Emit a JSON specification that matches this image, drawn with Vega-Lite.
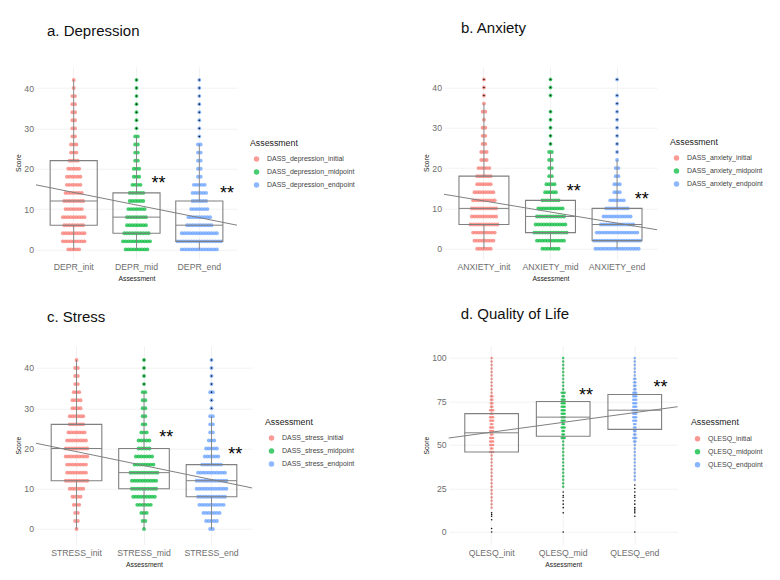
{"$schema":"https://vega.github.io/schema/vega-lite/v6.json","background":"white","padding":{"left":15,"top":20.7,"right":0,"bottom":0},"bounds":"flush","spacing":279,"config":{"font":"Liberation Sans","view":{"stroke":null},"axis":{"labelFontSize":8.7,"labelColor":"#6e6e6e","ticks":false,"domain":false,"gridColor":"#efefef","gridWidth":0.8,"titleFontSize":6.8,"titleFontWeight":"normal","titleColor":"#222222"},"legend":{"titleFontSize":8.8,"titleFontWeight":"normal","titleColor":"#222222","labelFontSize":7,"labelColor":"#444444","symbolSize":30,"symbolType":"circle","rowPadding":5,"titlePadding":8,"padding":0,"labelOffset":7,"symbolOffset":3},"title":{"fontSize":15,"fontWeight":"normal","anchor":"start","frame":"group","color":"#111111"}},"resolve":{"scale":{"color":"independent","xOffset":"independent"}},
"vconcat":[
{"hconcat":[
{"title":{"text":"a. Depression","dx":11,"offset":28},"width":201,"height":192,
"layer":[{"layer":[
{"data":{"values":[{"time":"init","score":0},{"time":"init","score":0},{"time":"init","score":0},{"time":"init","score":0},{"time":"init","score":0},{"time":"init","score":2},{"time":"init","score":2},{"time":"init","score":2},{"time":"init","score":2},{"time":"init","score":2},{"time":"init","score":2},{"time":"init","score":2},{"time":"init","score":2},{"time":"init","score":2},{"time":"init","score":4},{"time":"init","score":4},{"time":"init","score":4},{"time":"init","score":4},{"time":"init","score":4},{"time":"init","score":4},{"time":"init","score":4},{"time":"init","score":4},{"time":"init","score":4},{"time":"init","score":6},{"time":"init","score":6},{"time":"init","score":6},{"time":"init","score":6},{"time":"init","score":6},{"time":"init","score":6},{"time":"init","score":6},{"time":"init","score":6},{"time":"init","score":8},{"time":"init","score":8},{"time":"init","score":8},{"time":"init","score":8},{"time":"init","score":8},{"time":"init","score":8},{"time":"init","score":8},{"time":"init","score":8},{"time":"init","score":8},{"time":"init","score":10},{"time":"init","score":10},{"time":"init","score":10},{"time":"init","score":10},{"time":"init","score":10},{"time":"init","score":10},{"time":"init","score":10},{"time":"init","score":12},{"time":"init","score":12},{"time":"init","score":12},{"time":"init","score":12},{"time":"init","score":12},{"time":"init","score":12},{"time":"init","score":12},{"time":"init","score":12},{"time":"init","score":14},{"time":"init","score":14},{"time":"init","score":14},{"time":"init","score":14},{"time":"init","score":14},{"time":"init","score":14},{"time":"init","score":14},{"time":"init","score":16},{"time":"init","score":16},{"time":"init","score":16},{"time":"init","score":16},{"time":"init","score":16},{"time":"init","score":16},{"time":"init","score":18},{"time":"init","score":18},{"time":"init","score":18},{"time":"init","score":18},{"time":"init","score":18},{"time":"init","score":18},{"time":"init","score":20},{"time":"init","score":20},{"time":"init","score":20},{"time":"init","score":20},{"time":"init","score":20},{"time":"init","score":22},{"time":"init","score":22},{"time":"init","score":22},{"time":"init","score":22},{"time":"init","score":24},{"time":"init","score":24},{"time":"init","score":24},{"time":"init","score":26},{"time":"init","score":26},{"time":"init","score":26},{"time":"init","score":28},{"time":"init","score":28},{"time":"init","score":30},{"time":"init","score":30},{"time":"init","score":32},{"time":"init","score":32},{"time":"init","score":34},{"time":"init","score":34},{"time":"init","score":36},{"time":"init","score":36},{"time":"init","score":38},{"time":"init","score":38},{"time":"init","score":40},{"time":"init","score":42},
{"time":"mid","score":0},{"time":"mid","score":0},{"time":"mid","score":0},{"time":"mid","score":0},{"time":"mid","score":0},{"time":"mid","score":0},{"time":"mid","score":0},{"time":"mid","score":0},{"time":"mid","score":0},{"time":"mid","score":2},{"time":"mid","score":2},{"time":"mid","score":2},{"time":"mid","score":2},{"time":"mid","score":2},{"time":"mid","score":2},{"time":"mid","score":2},{"time":"mid","score":2},{"time":"mid","score":2},{"time":"mid","score":2},{"time":"mid","score":2},{"time":"mid","score":4},{"time":"mid","score":4},{"time":"mid","score":4},{"time":"mid","score":4},{"time":"mid","score":4},{"time":"mid","score":4},{"time":"mid","score":4},{"time":"mid","score":4},{"time":"mid","score":4},{"time":"mid","score":4},{"time":"mid","score":6},{"time":"mid","score":6},{"time":"mid","score":6},{"time":"mid","score":6},{"time":"mid","score":6},{"time":"mid","score":6},{"time":"mid","score":6},{"time":"mid","score":6},{"time":"mid","score":8},{"time":"mid","score":8},{"time":"mid","score":8},{"time":"mid","score":8},{"time":"mid","score":8},{"time":"mid","score":8},{"time":"mid","score":8},{"time":"mid","score":8},{"time":"mid","score":10},{"time":"mid","score":10},{"time":"mid","score":10},{"time":"mid","score":10},{"time":"mid","score":10},{"time":"mid","score":10},{"time":"mid","score":10},{"time":"mid","score":12},{"time":"mid","score":12},{"time":"mid","score":12},{"time":"mid","score":12},{"time":"mid","score":12},{"time":"mid","score":12},{"time":"mid","score":14},{"time":"mid","score":14},{"time":"mid","score":14},{"time":"mid","score":14},{"time":"mid","score":14},{"time":"mid","score":14},{"time":"mid","score":16},{"time":"mid","score":16},{"time":"mid","score":16},{"time":"mid","score":16},{"time":"mid","score":18},{"time":"mid","score":18},{"time":"mid","score":18},{"time":"mid","score":20},{"time":"mid","score":20},{"time":"mid","score":20},{"time":"mid","score":22},{"time":"mid","score":22},{"time":"mid","score":24},{"time":"mid","score":24},{"time":"mid","score":26},{"time":"mid","score":26},{"time":"mid","score":28},{"time":"mid","score":28},{"time":"mid","score":30},{"time":"mid","score":32},{"time":"mid","score":34},{"time":"mid","score":36},{"time":"mid","score":38},{"time":"mid","score":40},{"time":"mid","score":42},
{"time":"end","score":0},{"time":"end","score":0},{"time":"end","score":0},{"time":"end","score":0},{"time":"end","score":0},{"time":"end","score":0},{"time":"end","score":0},{"time":"end","score":0},{"time":"end","score":0},{"time":"end","score":0},{"time":"end","score":0},{"time":"end","score":0},{"time":"end","score":0},{"time":"end","score":0},{"time":"end","score":2},{"time":"end","score":2},{"time":"end","score":2},{"time":"end","score":2},{"time":"end","score":2},{"time":"end","score":2},{"time":"end","score":2},{"time":"end","score":2},{"time":"end","score":2},{"time":"end","score":2},{"time":"end","score":2},{"time":"end","score":2},{"time":"end","score":2},{"time":"end","score":2},{"time":"end","score":2},{"time":"end","score":2},{"time":"end","score":2},{"time":"end","score":4},{"time":"end","score":4},{"time":"end","score":4},{"time":"end","score":4},{"time":"end","score":4},{"time":"end","score":4},{"time":"end","score":4},{"time":"end","score":4},{"time":"end","score":4},{"time":"end","score":4},{"time":"end","score":4},{"time":"end","score":4},{"time":"end","score":4},{"time":"end","score":4},{"time":"end","score":6},{"time":"end","score":6},{"time":"end","score":6},{"time":"end","score":6},{"time":"end","score":6},{"time":"end","score":6},{"time":"end","score":6},{"time":"end","score":6},{"time":"end","score":6},{"time":"end","score":6},{"time":"end","score":8},{"time":"end","score":8},{"time":"end","score":8},{"time":"end","score":8},{"time":"end","score":8},{"time":"end","score":8},{"time":"end","score":8},{"time":"end","score":8},{"time":"end","score":8},{"time":"end","score":10},{"time":"end","score":10},{"time":"end","score":10},{"time":"end","score":10},{"time":"end","score":10},{"time":"end","score":10},{"time":"end","score":10},{"time":"end","score":12},{"time":"end","score":12},{"time":"end","score":12},{"time":"end","score":12},{"time":"end","score":12},{"time":"end","score":12},{"time":"end","score":14},{"time":"end","score":14},{"time":"end","score":14},{"time":"end","score":14},{"time":"end","score":14},{"time":"end","score":14},{"time":"end","score":16},{"time":"end","score":16},{"time":"end","score":16},{"time":"end","score":16},{"time":"end","score":16},{"time":"end","score":18},{"time":"end","score":18},{"time":"end","score":20},{"time":"end","score":20},{"time":"end","score":22},{"time":"end","score":22},{"time":"end","score":24},{"time":"end","score":24},{"time":"end","score":26},{"time":"end","score":26},{"time":"end","score":28},{"time":"end","score":30},{"time":"end","score":32},{"time":"end","score":34},{"time":"end","score":36},{"time":"end","score":38},{"time":"end","score":40},{"time":"end","score":42}]},
"transform":[{"window":[{"op":"row_number","as":"rank"}],"groupby":["time","score"]},{"joinaggregate":[{"op":"count","as":"n"}],"groupby":["time","score"]},{"calculate":"datum.rank-(datum.n+1)/2","as":"slot"}],
"mark":{"type":"point","filled":true,"size":15,"opacity":0.72},
"encoding":{"x":{"field":"time","type":"nominal","sort":["init","mid","end"],"scale":{"paddingInner":0,"paddingOuter":0.1},"axis":{"title":"Assessment","labelAngle":0,"labelExpr":"'DEPR_'+datum.label","labelPadding":4.3,"titlePadding":4,"grid":true}},"xOffset":{"field":"slot","type":"quantitative","scale":{"domain":[-11.6,11.6]}},"y":{"field":"score","type":"quantitative","scale":{"domain":[-2.3,45.28],"nice":false,"zero":false},"axis":{"title":"Score","values":[0,5,10,15,20,25,30,35,40,45],"labelExpr":"datum.value%10===0?datum.label:''","labelPadding":2.5,"titlePadding":2}},"color":{"field":"time","type":"nominal","scale":{"domain":["init","mid","end"],"range":["#F8766D","#00BA38","#619CFF"]},"legend":{"title":"Assessment","orient":"none","legendX":214,"legendY":72,"labelExpr":"'DASS_depression_'+{init:'initial',mid:'midpoint',end:'endpoint'}[datum.label]"}}}},
{"data":{"values":[{"time":"mid","score":30},{"time":"mid","score":32},{"time":"mid","score":34},{"time":"mid","score":36},{"time":"mid","score":38},{"time":"mid","score":40},{"time":"mid","score":42},{"time":"end","score":28},{"time":"end","score":30},{"time":"end","score":32},{"time":"end","score":34},{"time":"end","score":36},{"time":"end","score":38},{"time":"end","score":40},{"time":"end","score":42}]},"mark":{"type":"point","filled":true,"size":2.5,"color":"#111111","opacity":1},"encoding":{"x":{"field":"time","type":"nominal","sort":["init","mid","end"]},"y":{"field":"score","type":"quantitative"}}}
]},
{"layer":[
{"data":{"values":[{"position":1,"left":0.625,"right":1.375,"low":0,"q1":6,"median":12,"q3":22,"high":42},{"position":2,"left":1.625,"right":2.375,"low":0,"q1":4,"median":8,"q3":14,"high":28},{"position":3,"left":2.625,"right":3.375,"low":0,"q1":2,"median":6,"q3":12,"high":26}]},
"layer":[
{"mark":{"type":"rule","color":"#808080","strokeWidth":0.9},"encoding":{"x":{"field":"position","type":"quantitative","scale":{"domain":[0.4,3.6],"nice":false,"zero":false},"axis":null},"y":{"field":"q3","type":"quantitative"},"y2":{"field":"high"}}},
{"mark":{"type":"rule","color":"#808080","strokeWidth":0.9},"encoding":{"x":{"field":"position","type":"quantitative","axis":null},"y":{"field":"low","type":"quantitative"},"y2":{"field":"q1"}}},
{"mark":{"type":"rect","fillOpacity":0,"stroke":"#808080","strokeWidth":1.1},"encoding":{"x":{"field":"left","type":"quantitative","axis":null},"x2":{"field":"right"},"y":{"field":"q1","type":"quantitative"},"y2":{"field":"q3"}}},
{"mark":{"type":"rule","color":"#808080","strokeWidth":1},"encoding":{"x":{"field":"left","type":"quantitative","axis":null},"x2":{"field":"right"},"y":{"field":"median","type":"quantitative"}}}
]},
{"data":{"values":[{"position":0.4,"score":16},{"position":3.6,"score":6}]},"mark":{"type":"line","color":"#808080","strokeWidth":1},"encoding":{"x":{"field":"position","type":"quantitative","axis":null},"y":{"field":"score","type":"quantitative"}}},
{"data":{"values":[{"position":2.35,"score":17.3,"mark":"**"},{"position":3.44,"score":14.7,"mark":"**"}]},"mark":{"type":"text","fontSize":18,"dy":4,"color":"#000000"},"encoding":{"x":{"field":"position","type":"quantitative","axis":null},"y":{"field":"score","type":"quantitative"},"text":{"field":"mark"}}}
]}],"resolve":{"scale":{"x":"independent"}}},
{"title":{"text":"b. Anxiety","dx":17,"offset":31},"width":213,"height":192,
"layer":[{"layer":[
{"data":{"values":[{"time":"init","score":0},{"time":"init","score":0},{"time":"init","score":0},{"time":"init","score":0},{"time":"init","score":0},{"time":"init","score":0},{"time":"init","score":2},{"time":"init","score":2},{"time":"init","score":2},{"time":"init","score":2},{"time":"init","score":2},{"time":"init","score":2},{"time":"init","score":2},{"time":"init","score":2},{"time":"init","score":4},{"time":"init","score":4},{"time":"init","score":4},{"time":"init","score":4},{"time":"init","score":4},{"time":"init","score":4},{"time":"init","score":4},{"time":"init","score":4},{"time":"init","score":4},{"time":"init","score":6},{"time":"init","score":6},{"time":"init","score":6},{"time":"init","score":6},{"time":"init","score":6},{"time":"init","score":6},{"time":"init","score":6},{"time":"init","score":6},{"time":"init","score":6},{"time":"init","score":6},{"time":"init","score":6},{"time":"init","score":8},{"time":"init","score":8},{"time":"init","score":8},{"time":"init","score":8},{"time":"init","score":8},{"time":"init","score":8},{"time":"init","score":8},{"time":"init","score":8},{"time":"init","score":8},{"time":"init","score":8},{"time":"init","score":10},{"time":"init","score":10},{"time":"init","score":10},{"time":"init","score":10},{"time":"init","score":10},{"time":"init","score":10},{"time":"init","score":10},{"time":"init","score":10},{"time":"init","score":10},{"time":"init","score":10},{"time":"init","score":12},{"time":"init","score":12},{"time":"init","score":12},{"time":"init","score":12},{"time":"init","score":12},{"time":"init","score":12},{"time":"init","score":12},{"time":"init","score":12},{"time":"init","score":12},{"time":"init","score":14},{"time":"init","score":14},{"time":"init","score":14},{"time":"init","score":14},{"time":"init","score":14},{"time":"init","score":14},{"time":"init","score":14},{"time":"init","score":14},{"time":"init","score":16},{"time":"init","score":16},{"time":"init","score":16},{"time":"init","score":16},{"time":"init","score":16},{"time":"init","score":16},{"time":"init","score":18},{"time":"init","score":18},{"time":"init","score":18},{"time":"init","score":18},{"time":"init","score":18},{"time":"init","score":18},{"time":"init","score":20},{"time":"init","score":20},{"time":"init","score":20},{"time":"init","score":20},{"time":"init","score":20},{"time":"init","score":22},{"time":"init","score":22},{"time":"init","score":22},{"time":"init","score":24},{"time":"init","score":24},{"time":"init","score":24},{"time":"init","score":26},{"time":"init","score":26},{"time":"init","score":28},{"time":"init","score":28},{"time":"init","score":30},{"time":"init","score":30},{"time":"init","score":32},{"time":"init","score":34},{"time":"init","score":34},{"time":"init","score":36},{"time":"init","score":38},{"time":"init","score":40},{"time":"init","score":42},
{"time":"mid","score":0},{"time":"mid","score":0},{"time":"mid","score":0},{"time":"mid","score":0},{"time":"mid","score":0},{"time":"mid","score":0},{"time":"mid","score":0},{"time":"mid","score":2},{"time":"mid","score":2},{"time":"mid","score":2},{"time":"mid","score":2},{"time":"mid","score":2},{"time":"mid","score":2},{"time":"mid","score":2},{"time":"mid","score":2},{"time":"mid","score":2},{"time":"mid","score":2},{"time":"mid","score":2},{"time":"mid","score":4},{"time":"mid","score":4},{"time":"mid","score":4},{"time":"mid","score":4},{"time":"mid","score":4},{"time":"mid","score":4},{"time":"mid","score":4},{"time":"mid","score":4},{"time":"mid","score":4},{"time":"mid","score":4},{"time":"mid","score":4},{"time":"mid","score":4},{"time":"mid","score":4},{"time":"mid","score":6},{"time":"mid","score":6},{"time":"mid","score":6},{"time":"mid","score":6},{"time":"mid","score":6},{"time":"mid","score":6},{"time":"mid","score":6},{"time":"mid","score":6},{"time":"mid","score":6},{"time":"mid","score":6},{"time":"mid","score":6},{"time":"mid","score":6},{"time":"mid","score":8},{"time":"mid","score":8},{"time":"mid","score":8},{"time":"mid","score":8},{"time":"mid","score":8},{"time":"mid","score":8},{"time":"mid","score":8},{"time":"mid","score":8},{"time":"mid","score":8},{"time":"mid","score":8},{"time":"mid","score":8},{"time":"mid","score":10},{"time":"mid","score":10},{"time":"mid","score":10},{"time":"mid","score":10},{"time":"mid","score":10},{"time":"mid","score":10},{"time":"mid","score":10},{"time":"mid","score":10},{"time":"mid","score":10},{"time":"mid","score":10},{"time":"mid","score":12},{"time":"mid","score":12},{"time":"mid","score":12},{"time":"mid","score":12},{"time":"mid","score":12},{"time":"mid","score":12},{"time":"mid","score":12},{"time":"mid","score":14},{"time":"mid","score":14},{"time":"mid","score":14},{"time":"mid","score":14},{"time":"mid","score":14},{"time":"mid","score":16},{"time":"mid","score":16},{"time":"mid","score":16},{"time":"mid","score":16},{"time":"mid","score":18},{"time":"mid","score":18},{"time":"mid","score":20},{"time":"mid","score":20},{"time":"mid","score":22},{"time":"mid","score":22},{"time":"mid","score":24},{"time":"mid","score":24},{"time":"mid","score":26},{"time":"mid","score":28},{"time":"mid","score":30},{"time":"mid","score":32},{"time":"mid","score":34},{"time":"mid","score":38},{"time":"mid","score":40},{"time":"mid","score":42},
{"time":"end","score":0},{"time":"end","score":0},{"time":"end","score":0},{"time":"end","score":0},{"time":"end","score":0},{"time":"end","score":0},{"time":"end","score":0},{"time":"end","score":0},{"time":"end","score":0},{"time":"end","score":0},{"time":"end","score":0},{"time":"end","score":0},{"time":"end","score":0},{"time":"end","score":0},{"time":"end","score":0},{"time":"end","score":0},{"time":"end","score":0},{"time":"end","score":2},{"time":"end","score":2},{"time":"end","score":2},{"time":"end","score":2},{"time":"end","score":2},{"time":"end","score":2},{"time":"end","score":2},{"time":"end","score":2},{"time":"end","score":2},{"time":"end","score":2},{"time":"end","score":2},{"time":"end","score":2},{"time":"end","score":2},{"time":"end","score":2},{"time":"end","score":2},{"time":"end","score":2},{"time":"end","score":2},{"time":"end","score":2},{"time":"end","score":4},{"time":"end","score":4},{"time":"end","score":4},{"time":"end","score":4},{"time":"end","score":4},{"time":"end","score":4},{"time":"end","score":4},{"time":"end","score":4},{"time":"end","score":4},{"time":"end","score":4},{"time":"end","score":4},{"time":"end","score":4},{"time":"end","score":4},{"time":"end","score":4},{"time":"end","score":4},{"time":"end","score":4},{"time":"end","score":6},{"time":"end","score":6},{"time":"end","score":6},{"time":"end","score":6},{"time":"end","score":6},{"time":"end","score":6},{"time":"end","score":6},{"time":"end","score":6},{"time":"end","score":6},{"time":"end","score":6},{"time":"end","score":6},{"time":"end","score":6},{"time":"end","score":6},{"time":"end","score":8},{"time":"end","score":8},{"time":"end","score":8},{"time":"end","score":8},{"time":"end","score":8},{"time":"end","score":8},{"time":"end","score":8},{"time":"end","score":8},{"time":"end","score":8},{"time":"end","score":8},{"time":"end","score":8},{"time":"end","score":10},{"time":"end","score":10},{"time":"end","score":10},{"time":"end","score":10},{"time":"end","score":10},{"time":"end","score":10},{"time":"end","score":10},{"time":"end","score":10},{"time":"end","score":10},{"time":"end","score":12},{"time":"end","score":12},{"time":"end","score":12},{"time":"end","score":12},{"time":"end","score":12},{"time":"end","score":12},{"time":"end","score":14},{"time":"end","score":14},{"time":"end","score":14},{"time":"end","score":16},{"time":"end","score":16},{"time":"end","score":16},{"time":"end","score":18},{"time":"end","score":18},{"time":"end","score":20},{"time":"end","score":20},{"time":"end","score":22},{"time":"end","score":24},{"time":"end","score":26},{"time":"end","score":28},{"time":"end","score":30},{"time":"end","score":32},{"time":"end","score":34},{"time":"end","score":36},{"time":"end","score":38},{"time":"end","score":42}]},
"transform":[{"window":[{"op":"row_number","as":"rank"}],"groupby":["time","score"]},{"joinaggregate":[{"op":"count","as":"n"}],"groupby":["time","score"]},{"calculate":"datum.rank-(datum.n+1)/2","as":"slot"}],
"mark":{"type":"point","filled":true,"size":15,"opacity":0.72},
"encoding":{"x":{"field":"time","type":"nominal","sort":["init","mid","end"],"scale":{"paddingInner":0,"paddingOuter":0.1},"axis":{"title":"Assessment","labelAngle":0,"labelExpr":"'ANXIETY_'+datum.label","labelPadding":4.3,"titlePadding":4,"grid":true}},"xOffset":{"field":"slot","type":"quantitative","scale":{"domain":[-12.3,12.3]}},"y":{"field":"score","type":"quantitative","scale":{"domain":[-2.48,45.16],"nice":false,"zero":false},"axis":{"title":"Score","values":[0,5,10,15,20,25,30,35,40,45],"labelExpr":"datum.value%10===0?datum.label:''","labelPadding":2.5,"titlePadding":2}},"color":{"field":"time","type":"nominal","scale":{"domain":["init","mid","end"],"range":["#F8766D","#00BA38","#619CFF"]},"legend":{"title":"Assessment","orient":"none","legendX":226,"legendY":71,"labelExpr":"'DASS_anxiety_'+{init:'initial',mid:'midpoint',end:'endpoint'}[datum.label]"}}}},
{"data":{"values":[{"time":"init","score":38},{"time":"init","score":40},{"time":"init","score":42},{"time":"mid","score":26},{"time":"mid","score":28},{"time":"mid","score":30},{"time":"mid","score":32},{"time":"mid","score":34},{"time":"mid","score":38},{"time":"mid","score":40},{"time":"mid","score":42},{"time":"end","score":24},{"time":"end","score":26},{"time":"end","score":28},{"time":"end","score":30},{"time":"end","score":32},{"time":"end","score":34},{"time":"end","score":36},{"time":"end","score":38},{"time":"end","score":42}]},"mark":{"type":"point","filled":true,"size":2.5,"color":"#111111","opacity":1},"encoding":{"x":{"field":"time","type":"nominal","sort":["init","mid","end"]},"y":{"field":"score","type":"quantitative"}}}
]},
{"layer":[
{"data":{"values":[{"position":1,"left":0.625,"right":1.375,"low":0,"q1":6,"median":10,"q3":18,"high":36},{"position":2,"left":1.625,"right":2.375,"low":0,"q1":4,"median":8,"q3":12,"high":24},{"position":3,"left":2.625,"right":3.375,"low":0,"q1":2,"median":6,"q3":10,"high":22}]},
"layer":[
{"mark":{"type":"rule","color":"#808080","strokeWidth":0.9},"encoding":{"x":{"field":"position","type":"quantitative","scale":{"domain":[0.4,3.6],"nice":false,"zero":false},"axis":null},"y":{"field":"q3","type":"quantitative"},"y2":{"field":"high"}}},
{"mark":{"type":"rule","color":"#808080","strokeWidth":0.9},"encoding":{"x":{"field":"position","type":"quantitative","axis":null},"y":{"field":"low","type":"quantitative"},"y2":{"field":"q1"}}},
{"mark":{"type":"rect","fillOpacity":0,"stroke":"#808080","strokeWidth":1.1},"encoding":{"x":{"field":"left","type":"quantitative","axis":null},"x2":{"field":"right"},"y":{"field":"q1","type":"quantitative"},"y2":{"field":"q3"}}},
{"mark":{"type":"rule","color":"#808080","strokeWidth":1},"encoding":{"x":{"field":"left","type":"quantitative","axis":null},"x2":{"field":"right"},"y":{"field":"median","type":"quantitative"}}}
]},
{"data":{"values":[{"position":0.4,"score":13.5},{"position":3.6,"score":4.7}]},"mark":{"type":"line","color":"#808080","strokeWidth":1},"encoding":{"x":{"field":"position","type":"quantitative","axis":null},"y":{"field":"score","type":"quantitative"}}},
{"data":{"values":[{"position":2.35,"score":15.1,"mark":"**"},{"position":3.37,"score":13,"mark":"**"}]},"mark":{"type":"text","fontSize":18,"dy":4,"color":"#000000"},"encoding":{"x":{"field":"position","type":"quantitative","axis":null},"y":{"field":"score","type":"quantitative"},"text":{"field":"mark"}}}
]}],"resolve":{"scale":{"x":"independent"}}}
],"spacing":207,"bounds":"flush","resolve":{"scale":{"color":"independent","xOffset":"independent"}}},
{"hconcat":[
{"title":{"text":"c. Stress","dx":11,"offset":21},"width":216,"height":199,
"layer":[{"layer":[
{"data":{"values":[{"time":"init","score":0},{"time":"init","score":2},{"time":"init","score":2},{"time":"init","score":4},{"time":"init","score":4},{"time":"init","score":6},{"time":"init","score":6},{"time":"init","score":6},{"time":"init","score":8},{"time":"init","score":8},{"time":"init","score":8},{"time":"init","score":8},{"time":"init","score":10},{"time":"init","score":10},{"time":"init","score":10},{"time":"init","score":10},{"time":"init","score":10},{"time":"init","score":10},{"time":"init","score":12},{"time":"init","score":12},{"time":"init","score":12},{"time":"init","score":12},{"time":"init","score":12},{"time":"init","score":12},{"time":"init","score":12},{"time":"init","score":12},{"time":"init","score":12},{"time":"init","score":14},{"time":"init","score":14},{"time":"init","score":14},{"time":"init","score":14},{"time":"init","score":14},{"time":"init","score":14},{"time":"init","score":14},{"time":"init","score":14},{"time":"init","score":16},{"time":"init","score":16},{"time":"init","score":16},{"time":"init","score":16},{"time":"init","score":16},{"time":"init","score":16},{"time":"init","score":16},{"time":"init","score":16},{"time":"init","score":18},{"time":"init","score":18},{"time":"init","score":18},{"time":"init","score":18},{"time":"init","score":18},{"time":"init","score":18},{"time":"init","score":18},{"time":"init","score":18},{"time":"init","score":18},{"time":"init","score":20},{"time":"init","score":20},{"time":"init","score":20},{"time":"init","score":20},{"time":"init","score":20},{"time":"init","score":20},{"time":"init","score":20},{"time":"init","score":20},{"time":"init","score":20},{"time":"init","score":22},{"time":"init","score":22},{"time":"init","score":22},{"time":"init","score":22},{"time":"init","score":22},{"time":"init","score":22},{"time":"init","score":22},{"time":"init","score":22},{"time":"init","score":24},{"time":"init","score":24},{"time":"init","score":24},{"time":"init","score":24},{"time":"init","score":24},{"time":"init","score":24},{"time":"init","score":24},{"time":"init","score":26},{"time":"init","score":26},{"time":"init","score":26},{"time":"init","score":26},{"time":"init","score":26},{"time":"init","score":26},{"time":"init","score":28},{"time":"init","score":28},{"time":"init","score":28},{"time":"init","score":28},{"time":"init","score":28},{"time":"init","score":28},{"time":"init","score":30},{"time":"init","score":30},{"time":"init","score":30},{"time":"init","score":30},{"time":"init","score":32},{"time":"init","score":32},{"time":"init","score":32},{"time":"init","score":32},{"time":"init","score":34},{"time":"init","score":34},{"time":"init","score":34},{"time":"init","score":36},{"time":"init","score":36},{"time":"init","score":38},{"time":"init","score":38},{"time":"init","score":40},{"time":"init","score":40},{"time":"init","score":42},
{"time":"mid","score":0},{"time":"mid","score":2},{"time":"mid","score":2},{"time":"mid","score":4},{"time":"mid","score":4},{"time":"mid","score":4},{"time":"mid","score":6},{"time":"mid","score":6},{"time":"mid","score":6},{"time":"mid","score":6},{"time":"mid","score":6},{"time":"mid","score":6},{"time":"mid","score":8},{"time":"mid","score":8},{"time":"mid","score":8},{"time":"mid","score":8},{"time":"mid","score":8},{"time":"mid","score":8},{"time":"mid","score":8},{"time":"mid","score":8},{"time":"mid","score":8},{"time":"mid","score":10},{"time":"mid","score":10},{"time":"mid","score":10},{"time":"mid","score":10},{"time":"mid","score":10},{"time":"mid","score":10},{"time":"mid","score":10},{"time":"mid","score":10},{"time":"mid","score":10},{"time":"mid","score":10},{"time":"mid","score":12},{"time":"mid","score":12},{"time":"mid","score":12},{"time":"mid","score":12},{"time":"mid","score":12},{"time":"mid","score":12},{"time":"mid","score":12},{"time":"mid","score":12},{"time":"mid","score":12},{"time":"mid","score":12},{"time":"mid","score":14},{"time":"mid","score":14},{"time":"mid","score":14},{"time":"mid","score":14},{"time":"mid","score":14},{"time":"mid","score":14},{"time":"mid","score":14},{"time":"mid","score":14},{"time":"mid","score":14},{"time":"mid","score":14},{"time":"mid","score":14},{"time":"mid","score":16},{"time":"mid","score":16},{"time":"mid","score":16},{"time":"mid","score":16},{"time":"mid","score":16},{"time":"mid","score":16},{"time":"mid","score":16},{"time":"mid","score":16},{"time":"mid","score":18},{"time":"mid","score":18},{"time":"mid","score":18},{"time":"mid","score":18},{"time":"mid","score":18},{"time":"mid","score":18},{"time":"mid","score":18},{"time":"mid","score":20},{"time":"mid","score":20},{"time":"mid","score":20},{"time":"mid","score":20},{"time":"mid","score":20},{"time":"mid","score":22},{"time":"mid","score":22},{"time":"mid","score":22},{"time":"mid","score":22},{"time":"mid","score":22},{"time":"mid","score":24},{"time":"mid","score":24},{"time":"mid","score":24},{"time":"mid","score":26},{"time":"mid","score":26},{"time":"mid","score":28},{"time":"mid","score":28},{"time":"mid","score":30},{"time":"mid","score":30},{"time":"mid","score":32},{"time":"mid","score":32},{"time":"mid","score":34},{"time":"mid","score":34},{"time":"mid","score":36},{"time":"mid","score":38},{"time":"mid","score":40},{"time":"mid","score":42},
{"time":"end","score":0},{"time":"end","score":0},{"time":"end","score":2},{"time":"end","score":2},{"time":"end","score":2},{"time":"end","score":2},{"time":"end","score":2},{"time":"end","score":4},{"time":"end","score":4},{"time":"end","score":4},{"time":"end","score":4},{"time":"end","score":4},{"time":"end","score":4},{"time":"end","score":4},{"time":"end","score":6},{"time":"end","score":6},{"time":"end","score":6},{"time":"end","score":6},{"time":"end","score":6},{"time":"end","score":6},{"time":"end","score":6},{"time":"end","score":6},{"time":"end","score":6},{"time":"end","score":6},{"time":"end","score":8},{"time":"end","score":8},{"time":"end","score":8},{"time":"end","score":8},{"time":"end","score":8},{"time":"end","score":8},{"time":"end","score":8},{"time":"end","score":8},{"time":"end","score":8},{"time":"end","score":8},{"time":"end","score":8},{"time":"end","score":10},{"time":"end","score":10},{"time":"end","score":10},{"time":"end","score":10},{"time":"end","score":10},{"time":"end","score":10},{"time":"end","score":10},{"time":"end","score":10},{"time":"end","score":10},{"time":"end","score":10},{"time":"end","score":10},{"time":"end","score":10},{"time":"end","score":12},{"time":"end","score":12},{"time":"end","score":12},{"time":"end","score":12},{"time":"end","score":12},{"time":"end","score":12},{"time":"end","score":12},{"time":"end","score":12},{"time":"end","score":12},{"time":"end","score":12},{"time":"end","score":12},{"time":"end","score":12},{"time":"end","score":14},{"time":"end","score":14},{"time":"end","score":14},{"time":"end","score":14},{"time":"end","score":14},{"time":"end","score":14},{"time":"end","score":14},{"time":"end","score":14},{"time":"end","score":14},{"time":"end","score":14},{"time":"end","score":14},{"time":"end","score":16},{"time":"end","score":16},{"time":"end","score":16},{"time":"end","score":16},{"time":"end","score":16},{"time":"end","score":16},{"time":"end","score":16},{"time":"end","score":16},{"time":"end","score":18},{"time":"end","score":18},{"time":"end","score":18},{"time":"end","score":18},{"time":"end","score":18},{"time":"end","score":18},{"time":"end","score":20},{"time":"end","score":20},{"time":"end","score":20},{"time":"end","score":20},{"time":"end","score":20},{"time":"end","score":22},{"time":"end","score":22},{"time":"end","score":22},{"time":"end","score":24},{"time":"end","score":24},{"time":"end","score":26},{"time":"end","score":26},{"time":"end","score":28},{"time":"end","score":28},{"time":"end","score":30},{"time":"end","score":32},{"time":"end","score":34},{"time":"end","score":34},{"time":"end","score":36},{"time":"end","score":38},{"time":"end","score":40},{"time":"end","score":42}]},
"transform":[{"window":[{"op":"row_number","as":"rank"}],"groupby":["time","score"]},{"joinaggregate":[{"op":"count","as":"n"}],"groupby":["time","score"]},{"calculate":"datum.rank-(datum.n+1)/2","as":"slot"}],
"mark":{"type":"point","filled":true,"size":15,"opacity":0.72},
"encoding":{"x":{"field":"time","type":"nominal","sort":["init","mid","end"],"scale":{"paddingInner":0,"paddingOuter":0.1},"axis":{"title":"Assessment","labelAngle":0,"labelExpr":"'STRESS_'+datum.label","labelPadding":4.3,"titlePadding":4,"grid":true}},"xOffset":{"field":"slot","type":"quantitative","scale":{"domain":[-12.5,12.5]}},"y":{"field":"score","type":"quantitative","scale":{"domain":[-3.9,45.54],"nice":false,"zero":false},"axis":{"title":"Score","values":[0,5,10,15,20,25,30,35,40,45],"labelExpr":"datum.value%10===0?datum.label:''","labelPadding":2.5,"titlePadding":2}},"color":{"field":"time","type":"nominal","scale":{"domain":["init","mid","end"],"range":["#F8766D","#00BA38","#619CFF"]},"legend":{"title":"Assessment","orient":"none","legendX":229,"legendY":72,"labelExpr":"'DASS_stress_'+{init:'initial',mid:'midpoint',end:'endpoint'}[datum.label]"}}}},
{"data":{"values":[{"time":"mid","score":36},{"time":"mid","score":38},{"time":"mid","score":40},{"time":"mid","score":42},{"time":"end","score":30},{"time":"end","score":32},{"time":"end","score":34},{"time":"end","score":36},{"time":"end","score":38},{"time":"end","score":40},{"time":"end","score":42}]},"mark":{"type":"point","filled":true,"size":2.5,"color":"#111111","opacity":1},"encoding":{"x":{"field":"time","type":"nominal","sort":["init","mid","end"]},"y":{"field":"score","type":"quantitative"}}}
]},
{"layer":[
{"data":{"values":[{"position":1,"left":0.625,"right":1.375,"low":0,"q1":12,"median":20,"q3":26,"high":42},{"position":2,"left":1.625,"right":2.375,"low":0,"q1":10,"median":14,"q3":20,"high":34},{"position":3,"left":2.625,"right":3.375,"low":0,"q1":8,"median":12,"q3":16,"high":28}]},
"layer":[
{"mark":{"type":"rule","color":"#808080","strokeWidth":0.9},"encoding":{"x":{"field":"position","type":"quantitative","scale":{"domain":[0.4,3.6],"nice":false,"zero":false},"axis":null},"y":{"field":"q3","type":"quantitative"},"y2":{"field":"high"}}},
{"mark":{"type":"rule","color":"#808080","strokeWidth":0.9},"encoding":{"x":{"field":"position","type":"quantitative","axis":null},"y":{"field":"low","type":"quantitative"},"y2":{"field":"q1"}}},
{"mark":{"type":"rect","fillOpacity":0,"stroke":"#808080","strokeWidth":1.1},"encoding":{"x":{"field":"left","type":"quantitative","axis":null},"x2":{"field":"right"},"y":{"field":"q1","type":"quantitative"},"y2":{"field":"q3"}}},
{"mark":{"type":"rule","color":"#808080","strokeWidth":1},"encoding":{"x":{"field":"left","type":"quantitative","axis":null},"x2":{"field":"right"},"y":{"field":"median","type":"quantitative"}}}
]},
{"data":{"values":[{"position":0.4,"score":21.3},{"position":3.6,"score":10.2}]},"mark":{"type":"line","color":"#808080","strokeWidth":1},"encoding":{"x":{"field":"position","type":"quantitative","axis":null},"y":{"field":"score","type":"quantitative"}}},
{"data":{"values":[{"position":2.33,"score":23.6,"mark":"**"},{"position":3.35,"score":19.4,"mark":"**"}]},"mark":{"type":"text","fontSize":18,"dy":4,"color":"#000000"},"encoding":{"x":{"field":"position","type":"quantitative","axis":null},"y":{"field":"score","type":"quantitative"},"text":{"field":"mark"}}}
]}],"resolve":{"scale":{"x":"independent"}}},
{"title":{"text":"d. Quality of Life","dx":12,"offset":24},"width":229,"height":199,
"layer":[{"layer":[
{"data":{"values":[{"time":"init","score":14},{"time":"init","score":16},{"time":"init","score":18},{"time":"init","score":20},{"time":"init","score":22},{"time":"init","score":24},{"time":"init","score":26},{"time":"init","score":28},{"time":"init","score":30},{"time":"init","score":32},{"time":"init","score":34},{"time":"init","score":36},{"time":"init","score":38},{"time":"init","score":40},{"time":"init","score":42},{"time":"init","score":44},{"time":"init","score":46},{"time":"init","score":46},{"time":"init","score":46},{"time":"init","score":48},{"time":"init","score":48},{"time":"init","score":50},{"time":"init","score":50},{"time":"init","score":50},{"time":"init","score":52},{"time":"init","score":52},{"time":"init","score":52},{"time":"init","score":54},{"time":"init","score":54},{"time":"init","score":54},{"time":"init","score":56},{"time":"init","score":56},{"time":"init","score":58},{"time":"init","score":58},{"time":"init","score":58},{"time":"init","score":60},{"time":"init","score":60},{"time":"init","score":60},{"time":"init","score":62},{"time":"init","score":62},{"time":"init","score":64},{"time":"init","score":64},{"time":"init","score":64},{"time":"init","score":66},{"time":"init","score":66},{"time":"init","score":66},{"time":"init","score":68},{"time":"init","score":68},{"time":"init","score":70},{"time":"init","score":70},{"time":"init","score":70},{"time":"init","score":72},{"time":"init","score":72},{"time":"init","score":74},{"time":"init","score":74},{"time":"init","score":76},{"time":"init","score":76},{"time":"init","score":78},{"time":"init","score":78},{"time":"init","score":80},{"time":"init","score":82},{"time":"init","score":84},{"time":"init","score":86},{"time":"init","score":88},{"time":"init","score":90},{"time":"init","score":92},{"time":"init","score":94},{"time":"init","score":96},{"time":"init","score":98},{"time":"init","score":100},
{"time":"mid","score":26},{"time":"mid","score":28},{"time":"mid","score":30},{"time":"mid","score":32},{"time":"mid","score":34},{"time":"mid","score":36},{"time":"mid","score":38},{"time":"mid","score":40},{"time":"mid","score":42},{"time":"mid","score":44},{"time":"mid","score":46},{"time":"mid","score":48},{"time":"mid","score":50},{"time":"mid","score":52},{"time":"mid","score":54},{"time":"mid","score":54},{"time":"mid","score":54},{"time":"mid","score":56},{"time":"mid","score":56},{"time":"mid","score":58},{"time":"mid","score":58},{"time":"mid","score":60},{"time":"mid","score":60},{"time":"mid","score":60},{"time":"mid","score":62},{"time":"mid","score":62},{"time":"mid","score":64},{"time":"mid","score":64},{"time":"mid","score":64},{"time":"mid","score":66},{"time":"mid","score":66},{"time":"mid","score":66},{"time":"mid","score":68},{"time":"mid","score":68},{"time":"mid","score":68},{"time":"mid","score":70},{"time":"mid","score":70},{"time":"mid","score":70},{"time":"mid","score":72},{"time":"mid","score":72},{"time":"mid","score":72},{"time":"mid","score":74},{"time":"mid","score":74},{"time":"mid","score":74},{"time":"mid","score":76},{"time":"mid","score":76},{"time":"mid","score":76},{"time":"mid","score":78},{"time":"mid","score":78},{"time":"mid","score":80},{"time":"mid","score":80},{"time":"mid","score":80},{"time":"mid","score":82},{"time":"mid","score":84},{"time":"mid","score":86},{"time":"mid","score":88},{"time":"mid","score":90},{"time":"mid","score":92},{"time":"mid","score":94},{"time":"mid","score":96},{"time":"mid","score":98},{"time":"mid","score":100},
{"time":"end","score":30},{"time":"end","score":32},{"time":"end","score":34},{"time":"end","score":36},{"time":"end","score":38},{"time":"end","score":40},{"time":"end","score":42},{"time":"end","score":44},{"time":"end","score":46},{"time":"end","score":48},{"time":"end","score":50},{"time":"end","score":52},{"time":"end","score":52},{"time":"end","score":54},{"time":"end","score":54},{"time":"end","score":54},{"time":"end","score":56},{"time":"end","score":56},{"time":"end","score":58},{"time":"end","score":58},{"time":"end","score":60},{"time":"end","score":60},{"time":"end","score":62},{"time":"end","score":62},{"time":"end","score":64},{"time":"end","score":64},{"time":"end","score":64},{"time":"end","score":66},{"time":"end","score":66},{"time":"end","score":66},{"time":"end","score":68},{"time":"end","score":68},{"time":"end","score":68},{"time":"end","score":70},{"time":"end","score":70},{"time":"end","score":70},{"time":"end","score":70},{"time":"end","score":72},{"time":"end","score":72},{"time":"end","score":72},{"time":"end","score":74},{"time":"end","score":74},{"time":"end","score":74},{"time":"end","score":76},{"time":"end","score":76},{"time":"end","score":76},{"time":"end","score":78},{"time":"end","score":78},{"time":"end","score":78},{"time":"end","score":80},{"time":"end","score":80},{"time":"end","score":80},{"time":"end","score":82},{"time":"end","score":82},{"time":"end","score":84},{"time":"end","score":84},{"time":"end","score":86},{"time":"end","score":86},{"time":"end","score":88},{"time":"end","score":88},{"time":"end","score":90},{"time":"end","score":92},{"time":"end","score":94},{"time":"end","score":96},{"time":"end","score":98},{"time":"end","score":100}]},
"transform":[{"window":[{"op":"row_number","as":"rank"}],"groupby":["time","score"]},{"joinaggregate":[{"op":"count","as":"n"}],"groupby":["time","score"]},{"calculate":"datum.rank-(datum.n+1)/2","as":"slot"}],
"mark":{"type":"point","filled":true,"size":6,"opacity":0.75},
"encoding":{"x":{"field":"time","type":"nominal","sort":["init","mid","end"],"scale":{"paddingInner":0,"paddingOuter":0.1},"axis":{"title":"Assessment","labelAngle":0,"labelExpr":"'QLESQ_'+datum.label","labelPadding":4.3,"titlePadding":4,"grid":true}},"xOffset":{"field":"slot","type":"quantitative","scale":{"domain":[-23.9,23.9]}},"y":{"field":"score","type":"quantitative","scale":{"domain":[-7.3,107.07],"nice":false,"zero":false},"axis":{"title":"Score","values":[0,12.5,25,37.5,50,62.5,75,87.5,100],"labelExpr":"datum.value%25===0?datum.label:''","labelPadding":2.5,"titlePadding":2}},"color":{"field":"time","type":"nominal","scale":{"domain":["init","mid","end"],"range":["#F8766D","#00BA38","#619CFF"]},"legend":{"title":"Assessment","orient":"none","legendX":242.3,"legendY":72.7,"labelExpr":"'QLESQ_'+{init:'initial',mid:'midpoint',end:'endpoint'}[datum.label]"}}}},
{"data":{"values":[{"time":"init","score":11},{"time":"init","score":10},{"time":"init","score":9},{"time":"init","score":7},{"time":"init","score":2},{"time":"init","score":0},{"time":"mid","score":23},{"time":"mid","score":21},{"time":"mid","score":20},{"time":"mid","score":18},{"time":"mid","score":16},{"time":"mid","score":14},{"time":"mid","score":11},{"time":"mid","score":0},{"time":"end","score":27},{"time":"end","score":25},{"time":"end","score":23},{"time":"end","score":21},{"time":"end","score":20},{"time":"end","score":18},{"time":"end","score":16},{"time":"end","score":14},{"time":"end","score":13},{"time":"end","score":12},{"time":"end","score":11},{"time":"end","score":9},{"time":"end","score":0}]},"mark":{"type":"point","filled":true,"size":2.5,"color":"#111111","opacity":1},"encoding":{"x":{"field":"time","type":"nominal","sort":["init","mid","end"]},"y":{"field":"score","type":"quantitative"}}}
]},
{"layer":[
{"data":{"values":[{"position":1,"left":0.625,"right":1.375,"low":13,"q1":46,"median":57,"q3":68,"high":100},{"position":2,"left":1.625,"right":2.375,"low":25,"q1":55,"median":66,"q3":75,"high":100},{"position":3,"left":2.625,"right":3.375,"low":29,"q1":59,"median":70,"q3":79,"high":100}]},
"layer":[
{"mark":{"type":"rule","color":"#808080","strokeWidth":0.6,"opacity":0.45},"encoding":{"x":{"field":"position","type":"quantitative","scale":{"domain":[0.4,3.6],"nice":false,"zero":false},"axis":null},"y":{"field":"q3","type":"quantitative"},"y2":{"field":"high"}}},
{"mark":{"type":"rule","color":"#808080","strokeWidth":0.6,"opacity":0.45},"encoding":{"x":{"field":"position","type":"quantitative","axis":null},"y":{"field":"low","type":"quantitative"},"y2":{"field":"q1"}}},
{"mark":{"type":"rect","fillOpacity":0,"stroke":"#808080","strokeWidth":1.1},"encoding":{"x":{"field":"left","type":"quantitative","axis":null},"x2":{"field":"right"},"y":{"field":"q1","type":"quantitative"},"y2":{"field":"q3"}}},
{"mark":{"type":"rule","color":"#808080","strokeWidth":1},"encoding":{"x":{"field":"left","type":"quantitative","axis":null},"x2":{"field":"right"},"y":{"field":"median","type":"quantitative"}}}
]},
{"data":{"values":[{"position":0.4,"score":54},{"position":3.6,"score":72}]},"mark":{"type":"line","color":"#808080","strokeWidth":1},"encoding":{"x":{"field":"position","type":"quantitative","axis":null},"y":{"field":"score","type":"quantitative"}}},
{"data":{"values":[{"position":2.32,"score":80.5,"mark":"**"},{"position":3.36,"score":85,"mark":"**"}]},"mark":{"type":"text","fontSize":18,"dy":4,"color":"#000000"},"encoding":{"x":{"field":"position","type":"quantitative","axis":null},"y":{"field":"score","type":"quantitative"},"text":{"field":"mark"}}}
]}],"resolve":{"scale":{"x":"independent"}}}
],"spacing":196.7,"bounds":"flush","resolve":{"scale":{"color":"independent","xOffset":"independent"}}}
]}
